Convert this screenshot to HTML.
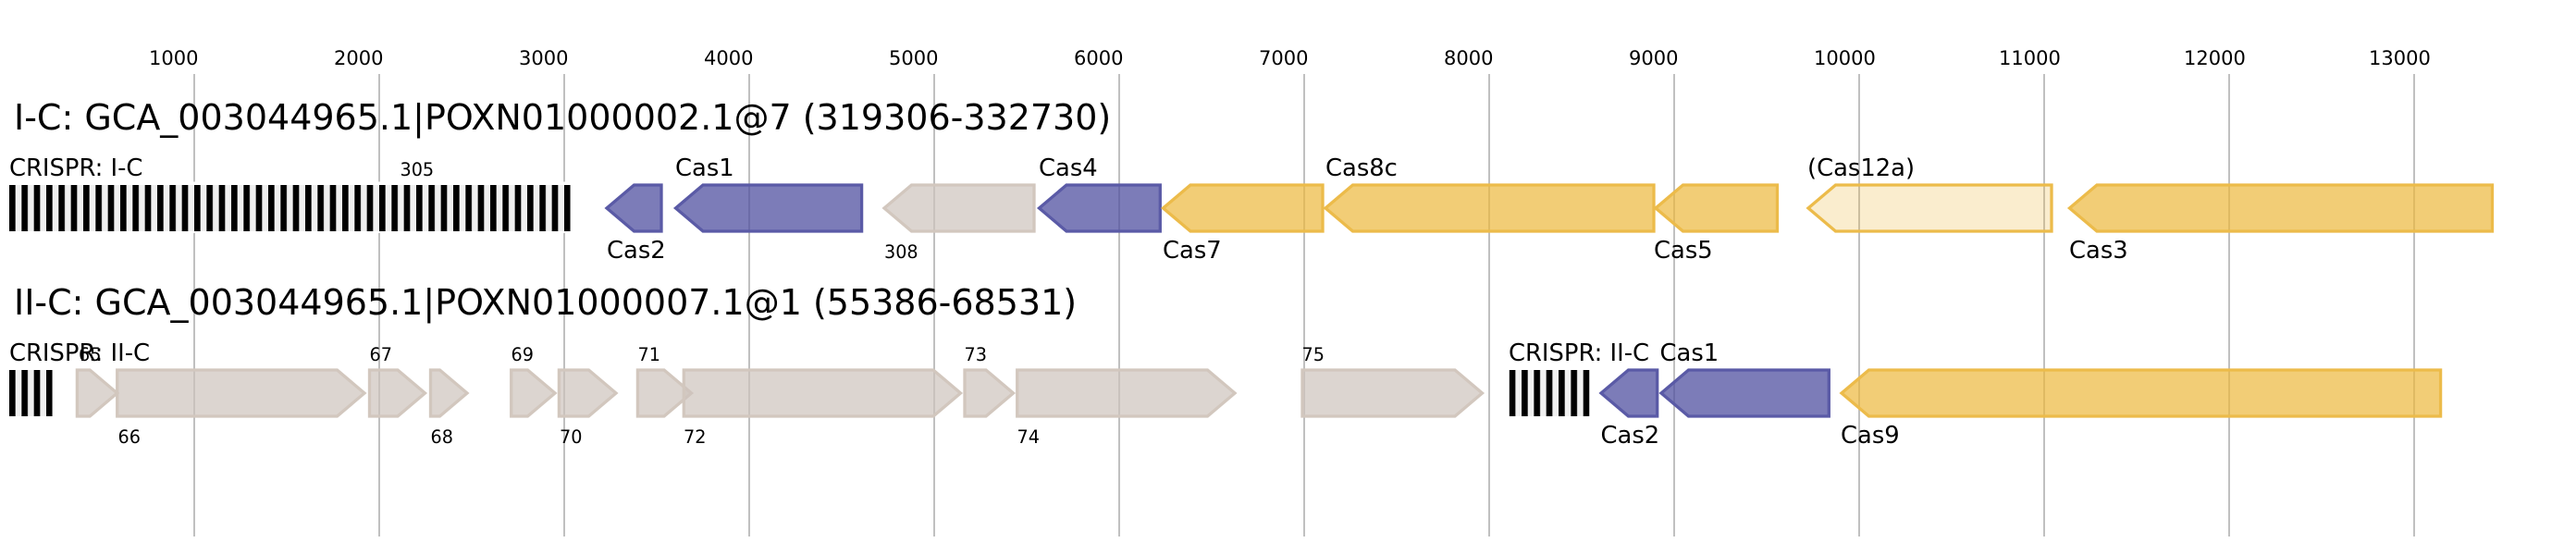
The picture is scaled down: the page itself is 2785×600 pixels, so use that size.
<!DOCTYPE html>
<html>
<head>
<meta charset="utf-8">
<style>
  html, body { margin: 0; padding: 0; background: #ffffff; }
  body { width: 2785px; height: 600px; overflow: hidden; }
  svg { display: block; }
  text { font-family: "DejaVu Sans", "Liberation Sans", sans-serif; fill: #000; }
  .tick { font-size: 21px; fill: #888888; }
  .title { font-size: 38.0px; }
  .lab { font-size: 25.8px; }
  .num { font-size: 19.2px; }
  .grid { stroke: #c0c0c0; stroke-width: 2; }
  .blue { fill: rgba(80,80,160,0.75); stroke: #5a5aa6; stroke-width: 3.3; }
  .yel { fill: rgba(236,184,60,0.7); stroke: #ecbb4a; stroke-width: 3.3; }
  .yl { fill: rgba(236,184,60,0.25); stroke: #ecbb4a; stroke-width: 3.3; }
  .gray { fill: rgba(205,195,188,0.7); stroke: #d2c7be; stroke-width: 3.3; }
</style>
</head>
<body>
<svg width="2785" height="600" viewBox="0 0 2785 600" xmlns="http://www.w3.org/2000/svg">
  <defs>
    <pattern id="crA" x="10" y="0" width="13.333" height="600" patternUnits="userSpaceOnUse">
      <rect x="0" y="0" width="13.333" height="600" fill="#f0f0f0"/>
      <rect x="0" y="0" width="6.667" height="600" fill="#000"/>
    </pattern>
    <pattern id="crB" x="1631.7" y="0" width="13.333" height="600" patternUnits="userSpaceOnUse">
      <rect x="0" y="0" width="13.333" height="600" fill="#f0f0f0"/>
      <rect x="0" y="0" width="6.667" height="600" fill="#000"/>
    </pattern>
  </defs>

  <!-- grid lines -->
  <g class="grid">
    <line x1="210" y1="80" x2="210" y2="580"/>
    <line x1="410" y1="80" x2="410" y2="580"/>
    <line x1="610" y1="80" x2="610" y2="580"/>
    <line x1="810" y1="80" x2="810" y2="580"/>
    <line x1="1010" y1="80" x2="1010" y2="580"/>
    <line x1="1210" y1="80" x2="1210" y2="580"/>
    <line x1="1410" y1="80" x2="1410" y2="580"/>
    <line x1="1610" y1="80" x2="1610" y2="580"/>
    <line x1="1810" y1="80" x2="1810" y2="580"/>
    <line x1="2010" y1="80" x2="2010" y2="580"/>
    <line x1="2210" y1="80" x2="2210" y2="580"/>
    <line x1="2410" y1="80" x2="2410" y2="580"/>
    <line x1="2610" y1="80" x2="2610" y2="580"/>
  </g>

  <!-- tick labels -->
  <g class="tick">
    <text x="161" y="70">1000</text>
    <text x="361" y="70">2000</text>
    <text x="561" y="70">3000</text>
    <text x="761" y="70">4000</text>
    <text x="961" y="70">5000</text>
    <text x="1161" y="70">6000</text>
    <text x="1361" y="70">7000</text>
    <text x="1561" y="70">8000</text>
    <text x="1761" y="70">9000</text>
    <text x="1961" y="70">10000</text>
    <text x="2161" y="70">11000</text>
    <text x="2361" y="70">12000</text>
    <text x="2561" y="70">13000</text>
  </g>

  <!-- ============ ROW 1 ============ -->
  <text class="title" x="15" y="140">I-C: GCA_003044965.1|POXN01000002.1@7 (319306-332730)</text>

  <!-- CRISPR array -->
  <rect x="8" y="196.5" width="611" height="55.5" fill="#ffffff"/>
  <rect x="10" y="200" width="606.7" height="50" fill="url(#crA)"/>
  <text class="lab" x="10" y="190">CRISPR: I-C</text>
  <text class="num" x="432.5" y="190">305</text>

  <!-- Cas2 -->
  <path class="blue" d="M715,200 L685.5,200 L656,225 L685.5,250 L715,250 Z"/>
  <text class="lab" x="656" y="279">Cas2</text>
  <!-- Cas1 -->
  <path class="blue" d="M931.6,200 L760,200 L730.5,225 L760,250 L931.6,250 Z"/>
  <text class="lab" x="730" y="190">Cas1</text>
  <!-- 308 -->
  <path class="gray" d="M1118,200 L985.5,200 L956,225 L985.5,250 L1118,250 Z"/>
  <text class="num" x="956" y="279">308</text>
  <!-- Cas4 -->
  <path class="blue" d="M1254.3,200 L1153,200 L1123.5,225 L1153,250 L1254.3,250 Z"/>
  <text class="lab" x="1123" y="190">Cas4</text>
  <!-- Cas7 -->
  <path class="yel" d="M1430,200 L1287,200 L1257.5,225 L1287,250 L1430,250 Z"/>
  <text class="lab" x="1257" y="279">Cas7</text>
  <!-- Cas8c -->
  <path class="yel" d="M1788,200 L1462.5,200 L1433,225 L1462.5,250 L1788,250 Z"/>
  <text class="lab" x="1433" y="190">Cas8c</text>
  <!-- Cas5 -->
  <path class="yel" d="M1921.5,200 L1819.5,200 L1790,225 L1819.5,250 L1921.5,250 Z"/>
  <text class="lab" x="1788" y="279">Cas5</text>
  <!-- (Cas12a) -->
  <path class="yl" d="M2218,200 L1984.5,200 L1955,225 L1984.5,250 L2218,250 Z"/>
  <text class="lab" x="1954" y="190">(Cas12a)</text>
  <!-- Cas3 -->
  <path class="yel" d="M2694.5,200 L2267,200 L2237.5,225 L2267,250 L2694.5,250 Z"/>
  <text class="lab" x="2237" y="279">Cas3</text>

  <!-- ============ ROW 2 ============ -->
  <text class="title" x="15" y="340">II-C: GCA_003044965.1|POXN01000007.1@1 (55386-68531)</text>

  <!-- CRISPR array 1 -->
  <rect x="10" y="400" width="46.7" height="50" fill="url(#crA)"/>
  <text class="lab" x="10" y="390">CRISPR: II-C</text>

  <!-- 65 -->
  <path class="gray" d="M83.4,400 L97.2,400 L126.7,425 L97.2,450 L83.4,450 Z"/>
  <text class="num" x="85" y="390">65</text>
  <!-- 66 -->
  <path class="gray" d="M126.7,400 L364.5,400 L394,425 L364.5,450 L126.7,450 Z"/>
  <text class="num" x="127.5" y="479">66</text>
  <!-- 67 -->
  <path class="gray" d="M399.5,400 L430,400 L459.5,425 L430,450 L399.5,450 Z"/>
  <text class="num" x="399.5" y="390">67</text>
  <!-- 68 -->
  <path class="gray" d="M465.5,400 L475.5,400 L505,425 L475.5,450 L465.5,450 Z"/>
  <text class="num" x="465.5" y="479">68</text>
  <!-- 69 -->
  <path class="gray" d="M552.7,400 L570.5,400 L600,425 L570.5,450 L552.7,450 Z"/>
  <text class="num" x="552.5" y="390">69</text>
  <!-- 70 -->
  <path class="gray" d="M604.4,400 L636.5,400 L666,425 L636.5,450 L604.4,450 Z"/>
  <text class="num" x="605" y="479">70</text>
  <!-- 71 -->
  <path class="gray" d="M689.4,400 L718,400 L747.5,425 L718,450 L689.4,450 Z"/>
  <text class="num" x="689.5" y="390">71</text>
  <!-- 72 -->
  <path class="gray" d="M739.3,400 L1009,400 L1038.5,425 L1009,450 L739.3,450 Z"/>
  <text class="num" x="739" y="479">72</text>
  <!-- 73 -->
  <path class="gray" d="M1043,400 L1066,400 L1095.5,425 L1066,450 L1043,450 Z"/>
  <text class="num" x="1042.5" y="390">73</text>
  <!-- 74 -->
  <path class="gray" d="M1099.7,400 L1305.5,400 L1335,425 L1305.5,450 L1099.7,450 Z"/>
  <text class="num" x="1099.5" y="479">74</text>
  <!-- 75 -->
  <path class="gray" d="M1408,400 L1573,400 L1602.5,425 L1573,450 L1408,450 Z"/>
  <text class="num" x="1407.5" y="390">75</text>

  <!-- CRISPR array 2 -->
  <rect x="1631.7" y="400" width="86.7" height="50" fill="url(#crB)"/>
  <text class="lab" x="1631" y="390">CRISPR: II-C</text>

  <!-- Cas2 row2 -->
  <path class="blue" d="M1791.7,400 L1760.5,400 L1731,425 L1760.5,450 L1791.7,450 Z"/>
  <text class="lab" x="1730.5" y="479">Cas2</text>
  <!-- Cas1 row2 -->
  <path class="blue" d="M1977.3,400 L1825.5,400 L1796,425 L1825.5,450 L1977.3,450 Z"/>
  <text class="lab" x="1794.5" y="390">Cas1</text>
  <!-- Cas9 -->
  <path class="yel" d="M2638.6,400 L2020.5,400 L1991,425 L2020.5,450 L2638.6,450 Z"/>
  <text class="lab" x="1990" y="479">Cas9</text>
</svg>
</body>
</html>
